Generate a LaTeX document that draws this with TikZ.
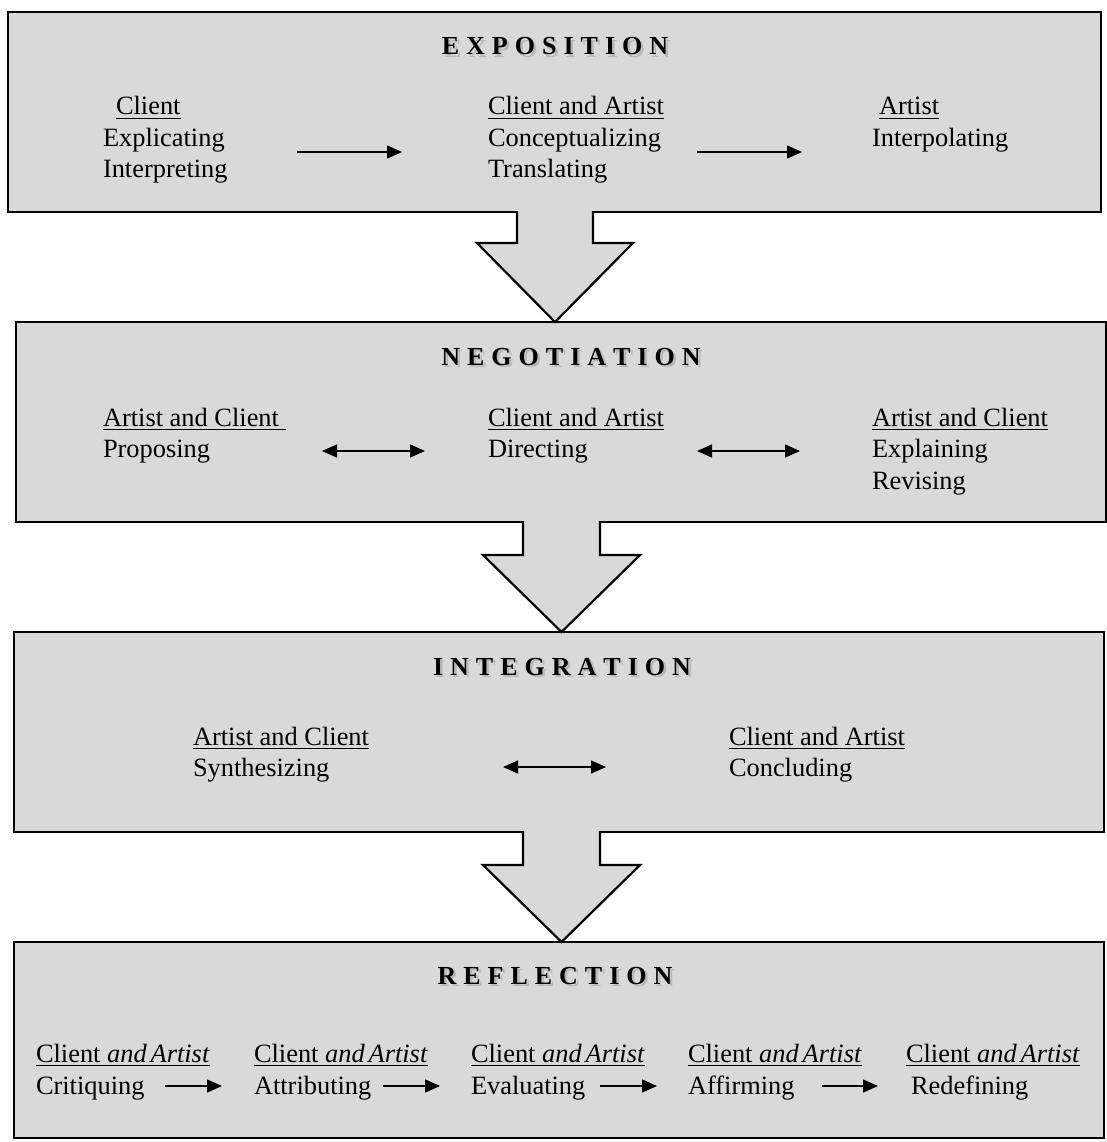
\documentclass[tikz,border=0pt]{standalone}
\usepackage{fontspec}
\setmainfont{Liberation Serif}
\usetikzlibrary{arrows.meta}
\definecolor{boxgray}{HTML}{D9D9D9}
\newcommand{\ulx}[1]{\setbox0\hbox{#1}\rlap{\rule[-4pt]{\wd0}{1.3pt}}\box0}
\def\spreadit#1{\ifx#1\relax\else#1\kern7pt\expandafter\spreadit\fi}
\newcommand{\spaced}[1]{\spreadit#1\relax\unkern}
\newcommand{\shadowed}[1]{\makebox[0pt][l]{\hspace{2.5pt}\raisebox{-2.5pt}{\color{black!28}\spaced{#1}}}\spaced{#1}}
\newcommand{\CaA}{Client \textit{and\hspace{0.15em}Artist}}
\begin{document}
\begin{tikzpicture}[x=1pt,y=-1pt,
  every node/.style={inner sep=0pt, outer sep=0pt},
  txt/.style={anchor=base west, font=\fontsize{26.4}{31}\selectfont},
  ttl/.style={anchor=base, font=\fontsize{26}{30}\selectfont\bfseries},
  stage/.style={draw=black, line width=2.6pt, fill=boxgray, anchor=north west},
  flow/.style={line width=1.4pt, -{Triangle[length=15pt,width=13pt]}},
  twoway/.style={line width=1.4pt, {Triangle[length=15pt,width=13pt]}-{Triangle[length=15pt,width=13pt]}},
  blockline/.style={draw=black, line width=2.2pt, line join=miter}]
\useasboundingbox (0,0) rectangle (1107,1142);

% stage boxes
\node[stage, minimum width=1093pt, minimum height=200pt] (b1) at (8,12) {};
\node[stage, minimum width=1090pt, minimum height=200pt] (b2) at (16,322) {};
\node[stage, minimum width=1090pt, minimum height=200pt] (b3) at (14,632) {};
\node[stage, minimum width=1090pt, minimum height=196pt] (b4) at (14,942) {};

% block arrows between stages
\fill[boxgray] (517,210) -- (517,243) -- (477,243) -- (555,320) -- (633,243) -- (593,243) -- (593,210) -- cycle;
\draw[blockline] (517,211) -- (517,243) -- (477,243) -- (b2.north -| 555,0) -- (633,243) -- (593,243) -- (593,211);
\fill[boxgray] (523,520) -- (523,555) -- (483,555) -- (561.5,631) -- (640,555) -- (600,555) -- (600,520) -- cycle;
\draw[blockline] (523,521) -- (523,555) -- (483,555) -- (b3.north -| 561.5,0) -- (640,555) -- (600,555) -- (600,521);
\fill[boxgray] (523,830) -- (523,865) -- (483,865) -- (561.5,941) -- (640,865) -- (600,865) -- (600,830) -- cycle;
\draw[blockline] (523,831) -- (523,865) -- (483,865) -- (b4.north -| 561.5,0) -- (640,865) -- (600,865) -- (600,831);

% titles
\node[ttl] (t1) at (555,55) {\shadowed{EXPOSITION}};
\node[ttl] (t2) at (571,365) {\shadowed{NEGOTIATION}};
\node[ttl] (t3) at (562,675) {\shadowed{INTEGRATION}};
\node[ttl] (t4) at (555,984) {\shadowed{REFLECTION}};

% EXPOSITION
\node[txt] (e1a) at (116,115) {\ulx{Client}};
\node[txt] (e1b) at (103,147) {Explicating};
\node[txt] (e1c) at (103,178) {Interpreting};
\node[txt] (e2a) at (488,115) {\ulx{Client and Artist}};
\node[txt] (e2b) at (488,147) {Conceptualizing};
\node[txt] (e2c) at (488,178) {Translating};
\node[txt] (e3a) at (879,115) {\ulx{Artist}};
\node[txt] (e3b) at (872,147) {Interpolating};
\coordinate (ea1s) at (297,152); \coordinate (ea1e) at (402,152);
\coordinate (ea2s) at (697,152); \coordinate (ea2e) at (802,152);
\draw[flow] (ea1s) -- (ea1e);
\draw[flow] (ea2s) -- (ea2e);

% NEGOTIATION
\node[txt] (n1a) at (103,426) {\ulx{Artist and Client\ }};
\node[txt] (n1b) at (103,457) {Proposing};
\node[txt] (n2a) at (488,426) {\ulx{Client and Artist}};
\node[txt] (n2b) at (488,457) {Directing};
\node[txt] (n3a) at (872,426) {\ulx{Artist and Client}};
\node[txt] (n3b) at (872,457) {Explaining};
\node[txt] (n3c) at (872,489) {Revising};
\coordinate (na1s) at (322,451); \coordinate (na1e) at (425,451);
\coordinate (na2s) at (697,451); \coordinate (na2e) at (800,451);
\draw[twoway] (na1s) -- (na1e);
\draw[twoway] (na2s) -- (na2e);

% INTEGRATION
\node[txt] (i1a) at (193,745) {\ulx{Artist and Client}};
\node[txt] (i1b) at (193,776) {Synthesizing};
\node[txt] (i2a) at (729,745) {\ulx{Client and Artist}};
\node[txt] (i2b) at (729,776) {Concluding};
\coordinate (ia1s) at (503,767); \coordinate (ia1e) at (606,767);
\draw[twoway] (ia1s) -- (ia1e);

% REFLECTION
\node[txt] (r1a) at (36,1062) {\ulx{\CaA}};
\node[txt] (r2a) at (254,1062) {\ulx{\CaA}};
\node[txt] (r3a) at (471,1062) {\ulx{\CaA}};
\node[txt] (r4a) at (688,1062) {\ulx{\CaA}};
\node[txt] (r5a) at (906,1062) {\ulx{\CaA}};
\node[txt] (r1b) at (36,1094) {Critiquing};
\node[txt] (r2b) at (254,1094) {Attributing};
\node[txt] (r3b) at (471,1094) {Evaluating};
\node[txt] (r4b) at (688,1094) {Affirming};
\node[txt] (r5b) at (911,1094) {Redefining};
\coordinate (ra1s) at (165,1086); \coordinate (ra1e) at (222,1086);
\coordinate (ra2s) at (383,1086); \coordinate (ra2e) at (440,1086);
\coordinate (ra3s) at (600,1086); \coordinate (ra3e) at (657,1086);
\coordinate (ra4s) at (822,1086); \coordinate (ra4e) at (878,1086);
\draw[flow] (ra1s) -- (ra1e);
\draw[flow] (ra2s) -- (ra2e);
\draw[flow] (ra3s) -- (ra3e);
\draw[flow] (ra4s) -- (ra4e);
\end{tikzpicture}
\end{document}
